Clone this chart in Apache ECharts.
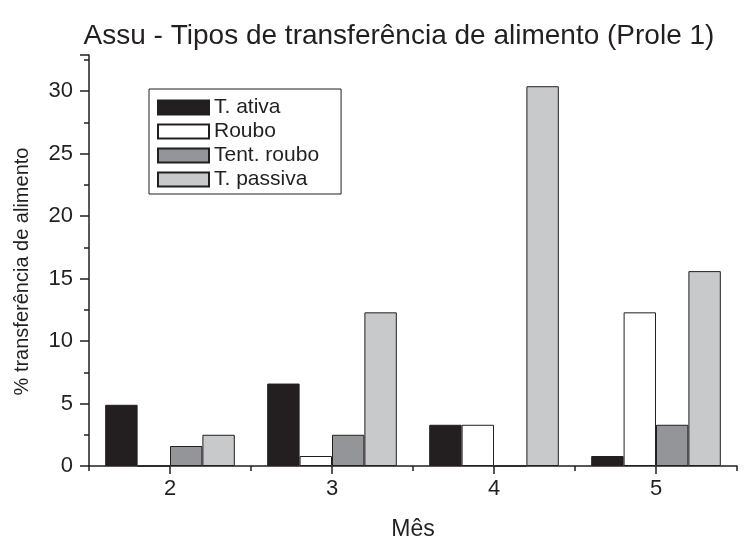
<!DOCTYPE html>
<html>
<head>
<meta charset="utf-8">
<script src="https://cdn.jsdelivr.net/npm/echarts@6/dist/echarts.min.js"></script>
<style>
  html, body { margin: 0; padding: 0; background: #fff; }
  #chart { width: 750px; height: 539px; }
</style>
</head>
<body>
<div id="chart"></div>
<script>
  var meses = ['2', '3', '4', '5'];
  var tAtiva = [4.9, 6.6, 3.3, 0.8];
  var roubo = [0, 0.8, 3.3, 12.3];
  var tentRoubo = [1.6, 2.5, 0, 3.3];
  var tPassiva = [2.5, 12.3, 30.4, 15.6];

  var ink = '#231f20';
  var font = 'Liberation Sans, Arial, sans-serif';

  function barSerie(name, data, fill) {
    return {
      name: name,
      type: 'bar',
      xAxisIndex: 0,
      barGap: 0,
      barCategoryGap: '20%',
      itemStyle: { color: fill, borderColor: ink, borderWidth: 1 },
      emphasis: { disabled: true },
      data: data
    };
  }

  var chart = echarts.init(document.getElementById('chart'));
  chart.setOption({
    animation: false,
    backgroundColor: '#ffffff',
    title: {
      text: 'Assu - Tipos de transferência de alimento (Prole 1)',
      left: 394,
      textAlign: 'center',
      top: 17,
      textStyle: { fontFamily: font, fontSize: 28, fontWeight: 'normal', color: ink }
    },
    legend: {
      orient: 'vertical',
      left: 149,
      top: 89,
      padding: [8, 22, 4, 8],
      itemWidth: 51,
      itemHeight: 14,
      itemGap: 3,
      icon: 'rect',
      borderColor: ink,
      borderWidth: 1,
      textStyle: { fontFamily: font, fontSize: 21, color: ink },
      data: ['T. ativa', 'Roubo', 'Tent. roubo', 'T. passiva']
    },
    grid: { left: 89, right: 13, top: 55, bottom: 73, outerBoundsMode: 'none' },
    xAxis: [
      {
        type: 'category',
        data: meses,
        name: 'Mês',
        nameLocation: 'middle',
        nameGap: 52,
        nameTextStyle: { fontFamily: font, fontSize: 23, color: ink },
        axisLine: { lineStyle: { color: ink, width: 1.5 } },
        axisTick: { show: true, alignWithLabel: false, length: 5, lineStyle: { color: ink, width: 1.5 } },
        axisLabel: { fontFamily: font, fontSize: 22, color: ink, margin: 12 },
        splitLine: { show: false }
      },
      {
        type: 'category',
        data: meses,
        position: 'bottom',
        axisLine: { show: false },
        axisTick: { show: true, alignWithLabel: true, length: 8, lineStyle: { color: ink, width: 1.5 } },
        axisLabel: { show: false },
        splitLine: { show: false }
      }
    ],
    yAxis: {
      type: 'value',
      min: 0,
      max: 32.9,
      interval: 5,
      name: '% transferência de alimento',
      nameLocation: 'middle',
      nameGap: 57,
      nameTextStyle: { fontFamily: font, fontSize: 20, color: ink, padding: [0, 0, 0, -22] },
      axisLine: { show: true, lineStyle: { color: ink, width: 1.5 } },
      axisTick: { show: true, length: 9, lineStyle: { color: ink, width: 1.5 } },
      minorTick: { show: true, splitNumber: 2, length: 5, lineStyle: { color: ink, width: 1.5 } },
      axisLabel: { fontFamily: font, fontSize: 22, color: ink, margin: 16, showMaxLabel: false },
      splitLine: { show: false }
    },
    series: [
      barSerie('T. ativa', tAtiva, ink),
      barSerie('Roubo', roubo, '#ffffff'),
      barSerie('Tent. roubo', tentRoubo, '#939598'),
      barSerie('T. passiva', tPassiva, '#c8c9cb')
    ]
  });
</script>
</body>
</html>
